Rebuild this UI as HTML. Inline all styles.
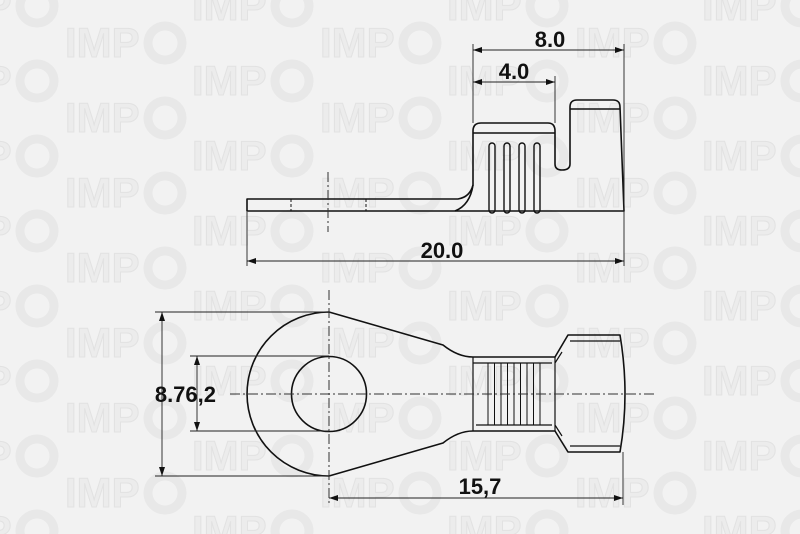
<!DOCTYPE html>
<html><head><meta charset="utf-8"><style>
html,body{margin:0;padding:0;background:#f2f2f2;}
svg{display:block}
</style></head><body>
<svg width="800" height="534" viewBox="0 0 800 534" xmlns="http://www.w3.org/2000/svg">
<defs>
<g id="wm">
<text x="0" y="17" font-family="Liberation Sans, sans-serif" font-weight="bold" font-size="42" fill="#ececec" stroke="#e2e2e2" stroke-width="1">IMP</text>
<circle cx="100" cy="3" r="17" fill="none" stroke="#e8e8e8" stroke-width="9"/>
</g>
<pattern id="pt" x="0" y="0" width="255" height="75" patternUnits="userSpaceOnUse">
<use href="#wm" x="65" y="40"/>
<use href="#wm" x="192" y="3"/><use href="#wm" x="192" y="78"/>
<use href="#wm" x="-63" y="3"/><use href="#wm" x="-63" y="78"/>
</pattern>
</defs>
<rect width="800" height="534" fill="#f2f2f2"/>
<rect width="800" height="534" fill="url(#pt)"/>

<g fill="none" stroke="#111" stroke-width="1.6" stroke-linejoin="round">
<path d="M247 199 L458 199 Q470 197 473 185 L473 131 Q473 123 481 123 L548 123 Q555 123 555 131 L555 164 Q555 170 562 170 Q570 170 570 164 L570 107 Q570 100 577 100 L613 100 Q620 100 620 107 L624 211 L247 211 Z"/>
<path d="M473 133 L555 133 M570 109 L620 109"/>
<path d="M473 185 Q470 205 455 211"/>
<g stroke-width="1.4">
<rect x="489" y="143" width="6" height="70" rx="3"/>
<rect x="504" y="143" width="6" height="70" rx="3"/>
<rect x="519" y="143" width="6" height="70" rx="3"/>
<rect x="534" y="143" width="6" height="70" rx="3"/>
</g>
<path d="M329 312 L443 345 Q458 357 473 357 L555 357 L568 335 L620 335 Q630 394 620 452 L568 452 L555 431 L473 431 Q458 431 443 443 L329 476 A82 82 0 0 1 329 312 Z"/>
<circle cx="329" cy="394" r="37.5"/>
<path d="M473 357 L473 431 M555 357 L555 431 M476 363 L552 363 M476 425 L552 425 M570 341 L620 341 M570 446 L620 446 M473 363 L476 363 M555 363 L562 352 M555 425 L562 436" stroke-width="1.2"/>
<path d="M488 363 V425 M494.5 363 V425 M501 363 V425 M507.5 363 V425 M514 363 V425 M520.5 363 V425 M527 363 V425 M533.5 363 V425 M540 363 V425" stroke-width="1"/>
</g>

<g stroke="#333" stroke-width="1" stroke-dasharray="10 3 2 3" fill="none">
<path d="M328 172 V232"/>
<path d="M329 290 V505"/>
<path d="M230 394 H655"/>
</g>
<path d="M291 199 V211 M366 199 V211" stroke="#111" stroke-width="1" stroke-dasharray="3 2"/>

<g stroke="#222" stroke-width="0.9" fill="none">
<path d="M473 44 V123 M555 76 V123 M624 44 V266 M247 212 V266"/>
<path d="M473 50 H624 M473 82 H555 M247 261 H624"/>
<path d="M155 312 H329 M155 476 H329 M190 356 H329 M190 431 H329"/>
<path d="M162 312 V476 M197 356 V431"/>
<path d="M623 452 V505 M329 498 H623"/>
</g>
<g fill="#111">
<path d="M473 50 l9 -3 v6z M624 50 l-9 -3 v6z M473 82 l9 -3 v6z M555 82 l-9 -3 v6z M247 261 l9 -3 v6z M624 261 l-9 -3 v6z"/>
<path d="M162 312 l-3 9 h6z M162 476 l-3 -9 h6z M197 356 l-3 9 h6z M197 431 l-3 -9 h6z"/>
<path d="M329 498 l9 -3 v6z M623 498 l-9 -3 v6z"/>
</g>
<g font-family="Liberation Sans, sans-serif" font-weight="bold" font-size="22" fill="#111">
<text x="550" y="47" text-anchor="middle">8.0</text>
<text x="514" y="79" text-anchor="middle">4.0</text>
<text x="442" y="258" text-anchor="middle">20.0</text>
<text x="216" y="402" text-anchor="end">8.76,2</text>
<text x="480" y="494" text-anchor="middle">15,7</text>
</g>
</svg>
</body></html>
